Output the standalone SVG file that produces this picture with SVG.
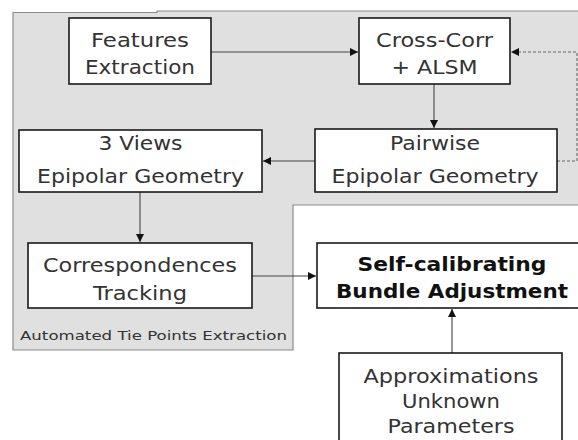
<svg xmlns="http://www.w3.org/2000/svg" width="578" height="440" viewBox="0 0 578 440">
<style>
.box{fill:#fff;stroke:#1a1a1a;stroke-width:1.6}
.t{font-family:"DejaVu Sans",Verdana,sans-serif;font-size:20px;fill:#333;text-anchor:middle}
.b{font-family:"DejaVu Sans",Verdana,sans-serif;font-size:20px;font-weight:bold;fill:#111;text-anchor:middle}
.lbl{font-family:"DejaVu Sans",Verdana,sans-serif;font-size:12px;fill:#333}
.c{fill:none;stroke:#444;stroke-width:1.1}
.d{fill:none;stroke:#666;stroke-width:1.1;stroke-dasharray:3,2}
</style>
<defs>
<marker id="ah" markerUnits="userSpaceOnUse" markerWidth="9" markerHeight="8" refX="8" refY="4" orient="auto">
<path d="M0,0 L8,4 L0,8 z" fill="#111"/>
</marker>
</defs>
<rect width="578" height="440" fill="#fff"/>
<g id="region">
<path d="M13,12.5 H157 V11 H580 V205 H293 V350 H13 Z" fill="#e0e0e0" stroke="#8a8a8a" stroke-width="1.2"/>
<text class="lbl" x="20" y="340" textLength="267" lengthAdjust="spacingAndGlyphs">Automated Tie Points Extraction</text>
</g>
<g id="connectors">
<path class="c" d="M211,52 H358" marker-end="url(#ah)"/>
<path class="c" d="M434,84 V128" marker-end="url(#ah)"/>
<path class="c" d="M315,161 H263" marker-end="url(#ah)"/>
<path class="c" d="M140,192 V242" marker-end="url(#ah)"/>
<path class="c" d="M252,276 H316" marker-end="url(#ah)"/>
<path class="c" d="M452,353 V309" marker-end="url(#ah)"/>
<path class="d" d="M557,161 H577 V52 H511" marker-end="url(#ah)"/>
</g>
<g id="features">
<rect class="box" x="69" y="18" width="142" height="66"/>
<text class="t" x="140" y="46.5" textLength="98" lengthAdjust="spacingAndGlyphs">Features</text>
<text class="t" x="140" y="74" textLength="110" lengthAdjust="spacingAndGlyphs">Extraction</text>
</g>
<g id="crosscorr">
<rect class="box" x="359" y="18" width="151" height="66"/>
<text class="t" x="434.5" y="46.5" textLength="117" lengthAdjust="spacingAndGlyphs">Cross-Corr</text>
<text class="t" x="434.5" y="74" textLength="86" lengthAdjust="spacingAndGlyphs">+ ALSM</text>
</g>
<g id="pairwise">
<rect class="box" x="315" y="129" width="242" height="63"/>
<text class="t" x="435" y="149.5" textLength="90" lengthAdjust="spacingAndGlyphs">Pairwise</text>
<text class="t" x="435" y="182.5" textLength="207" lengthAdjust="spacingAndGlyphs">Epipolar Geometry</text>
</g>
<g id="views3">
<rect class="box" x="19" y="130" width="243" height="62"/>
<text class="t" x="140.5" y="149.5" textLength="84" lengthAdjust="spacingAndGlyphs">3 Views</text>
<text class="t" x="140.5" y="182.5" textLength="207" lengthAdjust="spacingAndGlyphs">Epipolar Geometry</text>
</g>
<g id="correspondences">
<rect class="box" x="28" y="243" width="224" height="65"/>
<text class="t" x="140" y="271.5" textLength="194" lengthAdjust="spacingAndGlyphs">Correspondences</text>
<text class="t" x="140" y="300" textLength="94" lengthAdjust="spacingAndGlyphs">Tracking</text>
</g>
<g id="selfcal">
<rect class="box" x="317" y="243" width="275" height="65"/>
<text class="b" x="452" y="271" textLength="189" lengthAdjust="spacingAndGlyphs">Self-calibrating</text>
<text class="b" x="452" y="298" textLength="232" lengthAdjust="spacingAndGlyphs">Bundle Adjustment</text>
</g>
<g id="approx">
<rect class="box" x="339" y="353" width="223" height="100"/>
<text class="t" x="451" y="383" textLength="175" lengthAdjust="spacingAndGlyphs">Approximations</text>
<text class="t" x="451" y="408" textLength="98" lengthAdjust="spacingAndGlyphs">Unknown</text>
<text class="t" x="451" y="433" textLength="127" lengthAdjust="spacingAndGlyphs">Parameters</text>
</g>
</svg>
